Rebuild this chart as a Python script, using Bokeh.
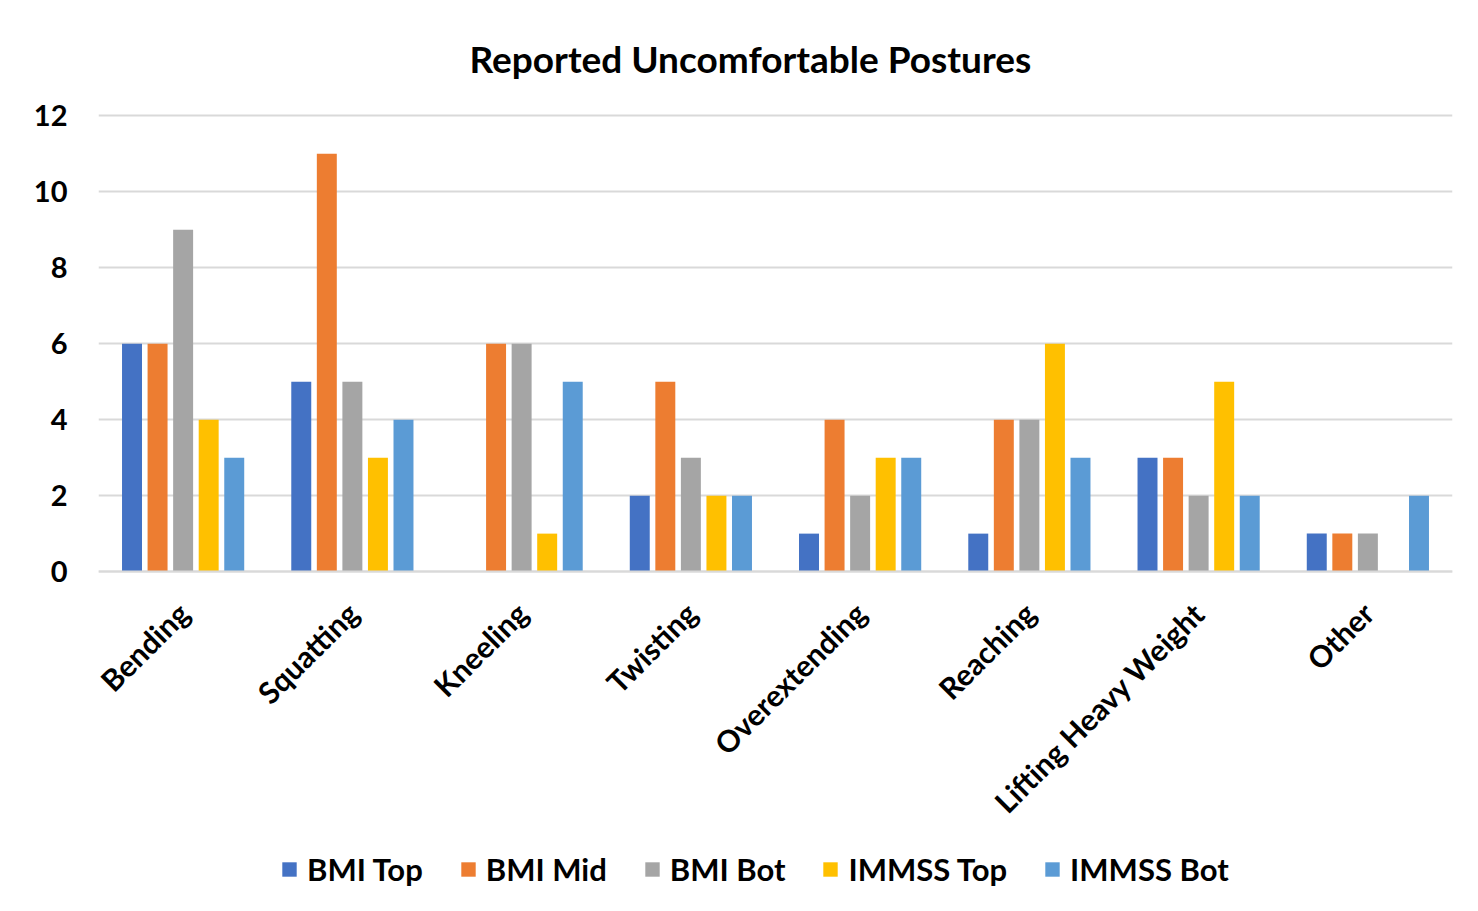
from bokeh.plotting import figure
from bokeh.models import ColumnDataSource, FactorRange, Range1d, Legend, LegendItem
from bokeh.transform import dodge
from bokeh.embed import file_html
from bokeh.resources import INLINE
import math

categories = ["Bending", "Squatting", "Kneeling", "Twisting", "Overextending",
              "Reaching", "Lifting Heavy Weight", "Other"]
series_names = ["BMI Top", "BMI Mid", "BMI Bot", "IMMSS Top", "IMMSS Bot"]
bmi_top = [6, 5, 0, 2, 1, 1, 3, 1]
bmi_mid = [6, 11, 6, 5, 4, 4, 3, 1]
bmi_bot = [9, 5, 6, 3, 2, 4, 2, 1]
immss_top = [4, 3, 1, 2, 3, 6, 5, 0]
immss_bot = [3, 4, 5, 2, 3, 3, 2, 2]
y_ticks = [0, 2, 4, 6, 8, 10, 12]

colors = ["#4472C4", "#ED7D31", "#A5A5A5", "#FFC000", "#5B9BD5"]
FONT = "Lato"

src = ColumnDataSource(dict(cat=categories, s0=bmi_top, s1=bmi_mid, s2=bmi_bot,
                            s3=immss_top, s4=immss_bot))

# frame extends below the zero line so that the legend fits inside it
p = figure(x_range=FactorRange(factors=categories), y_range=Range1d(-8.79, 12.06),
           frame_width=1354, frame_height=792, output_backend="svg", toolbar_location=None,
           min_border_left=98, min_border_right=18, min_border_top=113,
           min_border_bottom=0)

p.title.text = "Reported Uncomfortable Postures"
p.title.align = "left"
p.title.offset = 371
p.title.standoff = 66
p.title.text_font = FONT
p.title.text_font_size = "37px"
p.title.text_font_style = "bold"
p.title.text_color = "#000000"

offsets = [-0.302, -0.151, 0.0, 0.151, 0.302]
items = []
for i, name in enumerate(series_names):
    r = p.vbar(x=dodge("cat", offsets[i], range=p.x_range), top="s%d" % i, width=0.118,
               source=src, fill_color=colors[i], line_color=None)
    items.append(LegendItem(label=name, renderers=[r]))

p.outline_line_color = None
p.xgrid.grid_line_color = None
p.ygrid.grid_line_color = "#D9D9D9"
p.ygrid.grid_line_width = 2
p.yaxis.ticker = y_ticks
p.yaxis.axis_line_color = None
p.yaxis.major_tick_line_color = None
p.yaxis.minor_tick_line_color = None
p.yaxis.major_label_text_font = FONT
p.yaxis.major_label_text_font_size = "29px"
p.yaxis.major_label_text_font_style = "bold"
p.yaxis.major_label_text_color = "#000000"
p.yaxis.major_label_standoff = 25

p.xaxis.fixed_location = 0
p.xaxis.axis_line_color = "#D9D9D9"
p.xaxis.axis_line_width = 2
p.xaxis.major_tick_line_color = None
p.xaxis.minor_tick_line_color = None
p.xaxis.major_label_orientation = math.pi / 4
p.xaxis.major_label_text_font = FONT
p.xaxis.major_label_text_font_size = "30px"
p.xaxis.major_label_text_font_style = "bold"
p.xaxis.major_label_text_color = "#000000"
p.xaxis.major_label_standoff = 30

legend = Legend(items=items, orientation="horizontal", location=(182, 17),
                glyph_width=18, glyph_height=18, spacing=36, label_standoff=9,
                label_text_font=FONT, label_text_font_size="31px",
                label_text_font_style="bold", label_text_color="#000000",
                border_line_color=None, background_fill_alpha=0, margin=0, padding=0)
p.add_layout(legend, "center")

open("out.html", "w").write(file_html(p, INLINE))
